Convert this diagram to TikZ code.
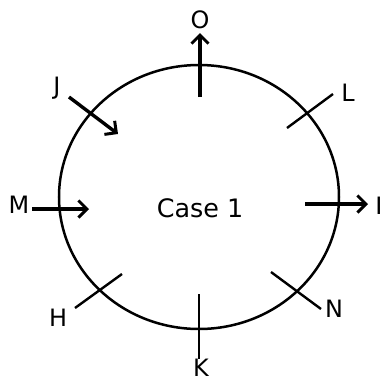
\documentclass[tikz,border=0pt]{standalone}
\usepackage{fontspec}
\setmainfont{DejaVu Sans}
\usetikzlibrary{arrows.meta}
\begin{document}
\begin{tikzpicture}[x=1bp,y=-1bp,
  ring/.style={line width=2.5bp},
  tick/.style={line width=2.4bp},
  arr/.style={line width=3.4bp,-{Straight Barb[length=8.5bp,width=17bp,line width=3bp]}},
  lbl/.style={font=\fontsize{24}{27}\selectfont,inner sep=0pt},
  title/.style={font=\fontsize{25.5}{28}\selectfont,inner sep=0pt}]
\useasboundingbox (0,0) rectangle (388,382);
\coordinate (c) at (199,197);
\draw[ring] (c) ellipse [x radius=140bp, y radius=132bp];
\node[title] (case) at (200,208) {Case 1};
% labels
\node[lbl] (O) at (200,20) {O};
\node[lbl] (J) at (57,88) {J};
\node[lbl] (L) at (348,93) {L};
\node[lbl] (M) at (19,205) {M};
\node[lbl] (I) at (379,206) {I};
\node[lbl] (H) at (58,318) {H};
\node[lbl] (K) at (201,368) {K};
\node[lbl] (N) at (334,309) {N};
% arrows
\coordinate (o1) at (200,97); \coordinate (o2) at (200,33);
\draw[arr] (o1) -- (o2);
\coordinate (j1) at (69,97); \coordinate (j2) at (118,134);
\draw[arr] (j1) -- (j2);
\coordinate (m1) at (32,209); \coordinate (m2) at (89,209);
\draw[arr] (m1) -- (m2);
\coordinate (i1) at (305,204); \coordinate (i2) at (368,204);
\draw[arr] (i1) -- (i2);
% ticks
\coordinate (l1) at (287,128); \coordinate (l2) at (333,94);
\draw[tick] (l1) -- (l2);
\coordinate (h1) at (75,308); \coordinate (h2) at (122,274);
\draw[tick] (h1) -- (h2);
\coordinate (k1) at (199,294); \coordinate (k2) at (199,359);
\draw[tick] (k1) -- (k2);
\coordinate (n1) at (271,272); \coordinate (n2) at (321,309);
\draw[tick] (n1) -- (n2);
\end{tikzpicture}
\end{document}
